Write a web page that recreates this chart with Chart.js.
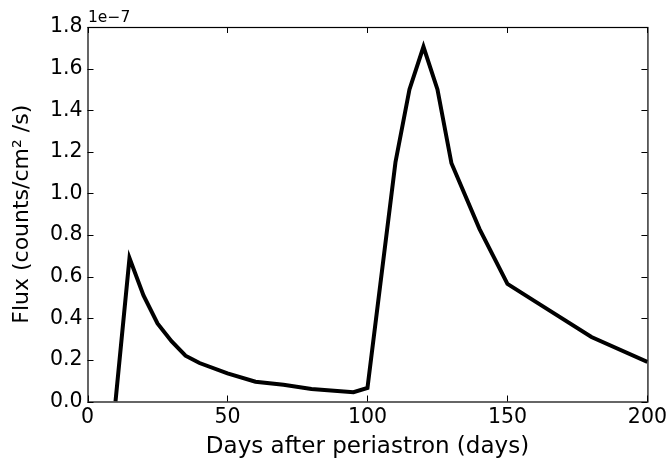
<!DOCTYPE html>
<html>
<head>
<meta charset="utf-8">
<script src="https://cdn.jsdelivr.net/npm/chart.js@4/dist/chart.umd.min.js"></script>
<style>
  html, body { margin: 0; padding: 0; background: #fff; }
  #wrap { width: 671px; height: 461px; position: relative; }
</style>
</head>
<body>
<div id="wrap"><canvas id="flux-chart"></canvas></div>
<script>
// light curve after periastron, flux in units of 1e-7 counts/cm^2/s
const days = [10, 15, 20, 25, 30, 35, 40, 50, 60, 70, 80, 95, 100, 110, 115, 120, 125, 130, 140, 150, 160, 180, 200];
const flux = [0.0, 0.69, 0.51, 0.375, 0.29, 0.22, 0.185, 0.135, 0.095, 0.08, 0.06, 0.045, 0.065, 1.15, 1.5, 1.705, 1.5, 1.145, 0.83, 0.565, 0.48, 0.31, 0.19];

const xTicks = [0, 50, 100, 150, 200];
const yTicks = [0, 0.2, 0.4, 0.6, 0.8, 1.0, 1.2, 1.4, 1.6, 1.8];
const offsetLabel = "1e\u22127";

const FONT = "'DejaVu Sans', sans-serif";

// matplotlib-style frame with inward ticks on all four sides
const frameTicks = {
  id: "frameTicks",
  afterDraw(chart) {
    const { ctx, chartArea: a, scales } = chart;
    const len = 6;
    ctx.save();
    ctx.strokeStyle = "#000";
    ctx.lineWidth = 1;
    ctx.beginPath();
    xTicks.forEach((v) => {
      const px = Math.round(scales.x.getPixelForValue(v)) + 0.5;
      ctx.moveTo(px, a.bottom);
      ctx.lineTo(px, a.bottom - len);
      ctx.moveTo(px, a.top);
      ctx.lineTo(px, a.top + len);
    });
    yTicks.forEach((v) => {
      const py = Math.round(scales.y.getPixelForValue(v)) + 0.5;
      ctx.moveTo(a.left, py);
      ctx.lineTo(a.left + len, py);
      ctx.moveTo(a.right, py);
      ctx.lineTo(a.right - len, py);
    });
    ctx.stroke();
    ctx.lineWidth = 1.2;
    ctx.strokeRect(a.left + 0.5, a.top + 0.5, a.right - a.left, a.bottom - a.top);
    ctx.fillStyle = "#000";
    ctx.font = "15.5px " + FONT;
    ctx.textAlign = "left";
    ctx.textBaseline = "alphabetic";
    ctx.fillText(offsetLabel, a.left + 0.5, a.top - 5);
    ctx.restore();
  },
};

new Chart(document.getElementById("flux-chart"), {
  type: "line",
  data: {
    datasets: [
      {
        data: days.map((d, i) => ({ x: d, y: flux[i] })),
        borderColor: "#000",
        borderWidth: 4,
        pointRadius: 0,
        tension: 0,
        fill: false,
        borderJoinStyle: "miter",
      },
    ],
  },
  options: {
    responsive: true,
    maintainAspectRatio: false,
    animation: false,
    layout: { padding: { top: 27, right: 23.5, left: 0, bottom: 0 } },
    plugins: { legend: { display: false }, tooltip: { enabled: false } },
    scales: {
      x: {
        type: "linear",
        min: 0,
        max: 200,
        afterBuildTicks: (scale) => { scale.ticks = xTicks.map((v) => ({ value: v })); },
        afterFit: (scale) => { scale.height = 59.5; },
        grid: { display: false, drawTicks: false },
        border: { display: false },
        ticks: { color: "#000", font: { family: FONT, size: 20.5 }, padding: 4, maxRotation: 0 },
        title: {
          display: true,
          text: "Days after periastron (days)",
          color: "#000",
          font: { family: FONT, size: 23 },
          padding: { top: 0, bottom: 0 },
        },
      },
      y: {
        min: 0,
        max: 1.8,
        afterBuildTicks: (scale) => { scale.ticks = yTicks.map((v) => ({ value: v })); },
        afterFit: (scale) => { scale.width = 87.5; },
        grid: { display: false, drawTicks: false },
        border: { display: false },
        ticks: {
          color: "#000",
          font: { family: FONT, size: 20.5 },
          padding: 5,
          callback: (v) => Number(v).toFixed(1),
        },
        title: {
          display: true,
          text: "Flux (counts/cm\u00b2 /s)",
          color: "#000",
          font: { family: FONT, size: 22 },
          padding: { top: 9, bottom: 0 },
        },
      },
    },
  },
  plugins: [frameTicks],
});
</script>
</body>
</html>
